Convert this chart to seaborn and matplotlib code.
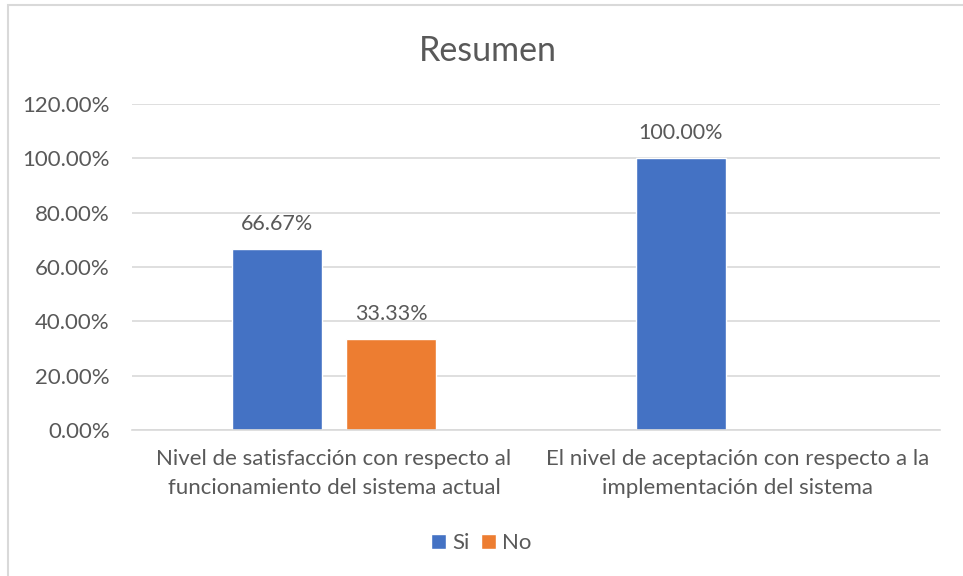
import pandas as pd
import matplotlib.pyplot as plt
import seaborn as sns
from matplotlib.patches import Rectangle

# data
categories = [
    "Nivel de satisfacción con respecto al\nfuncionamiento del sistema actual",
    "El nivel de aceptación con respecto a la\nimplementación del sistema",
]
series = ["Si", "No"]
si_values = [66.67, 100.00]
no_values = [33.33, None]  # no "No" bar for the second category
colors = ["#4472C4", "#ED7D31"]

rows = []
for cat, si, no in zip(categories, si_values, no_values):
    rows.append({"categoria": cat, "respuesta": "Si", "valor": si})
    if no is not None:
        rows.append({"categoria": cat, "respuesta": "No", "valor": no})
df = pd.DataFrame(rows)

sns.set_style("white")
plt.rcParams["font.family"] = ["Lato", "DejaVu Sans"]
text_color = "#595959"
grid_color = "#D9D9D9"

fig = plt.figure(figsize=(9.63, 5.76), dpi=100)
ax = fig.add_axes([0.137, 0.2535, 0.839, 0.5659])

sns.barplot(
    data=df,
    x="categoria",
    y="valor",
    hue="respuesta",
    order=categories,
    hue_order=series,
    palette=colors,
    width=0.565,
    gap=0.21,
    saturation=1,
    ax=ax,
    legend=True,
)

for cont in ax.containers:
    ax.bar_label(cont, fmt="{:.2f}%", padding=11, fontsize=15.5, color=text_color)

ax.set_ylim(0, 120)
ax.set_yticks(range(0, 121, 20))
ax.yaxis.set_major_formatter(lambda v, p: f"{v:.2f}%")
ax.set_xlim(-0.5, 1.5)
ax.grid(axis="y", color=grid_color, linewidth=1.2)
ax.set_axisbelow(True)
for side in ["top", "right", "left"]:
    ax.spines[side].set_visible(False)
ax.spines["bottom"].set_color(grid_color)
ax.spines["bottom"].set_linewidth(1.2)
ax.tick_params(axis="both", length=0, labelsize=16, labelcolor=text_color)
ax.tick_params(axis="y", pad=16)
ax.tick_params(axis="x", pad=14)
for lbl in ax.get_xticklabels():
    lbl.set_linespacing(1.55)
ax.set_xlabel("")
ax.set_ylabel("")

fig.text(0.507, 0.912, "Resumen", ha="center", va="center", fontsize=24.5, color=text_color)

ax.legend_.remove()
handles, labels = ax.get_legend_handles_labels()
fig.legend(
    handles, labels,
    loc="center", bbox_to_anchor=(0.5, 0.057),
    ncol=2, frameon=False, fontsize=16,
    handlelength=0.65, handleheight=0.65, handletextpad=0.3, columnspacing=0.5,
    labelcolor=text_color,
)

# chart area border
fig.patches.append(Rectangle((8 / 963, -0.05), 1.2, 1 - 5 / 576 + 0.05,
                             transform=fig.transFigure, fill=False,
                             edgecolor=grid_color, linewidth=1.5))

fig.savefig("out.png", dpi=100)
